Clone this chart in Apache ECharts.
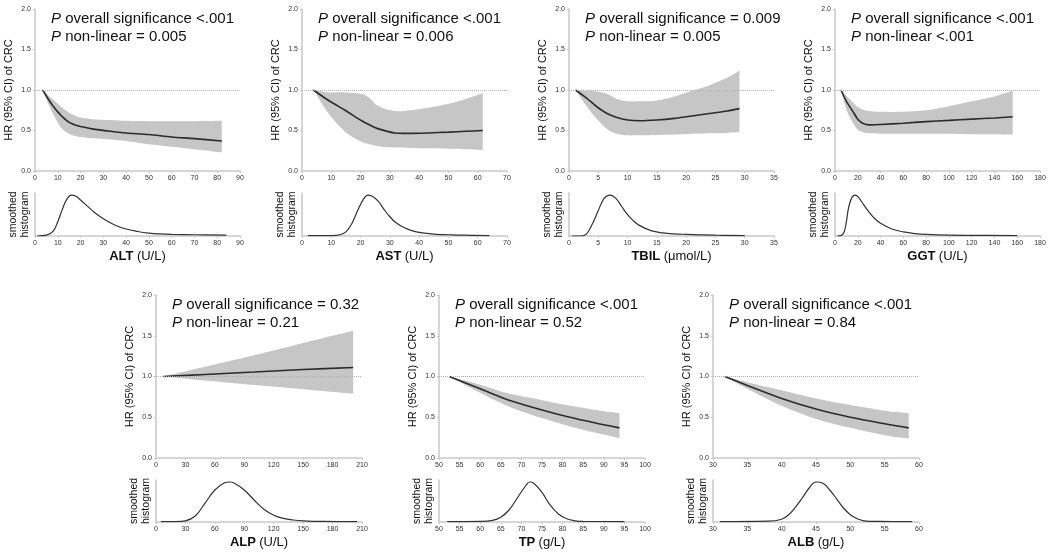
<!DOCTYPE html>
<html>
<head>
<meta charset="utf-8">
<script src="https://cdn.jsdelivr.net/npm/echarts@6/dist/echarts.min.js"></script>
<style>
html, body { margin: 0; padding: 0; background: #fff; }
#main { width: 1050px; height: 554px; }
</style>
</head>
<body>
<div id="main"></div>
<script>
// ---- data ----
var altX  = [3.4, 6, 8, 10, 12, 15, 18, 20, 25, 33, 40, 50, 60, 70, 82];
var altHR = [1.0, 0.88, 0.8, 0.73, 0.67, 0.6, 0.565, 0.55, 0.52, 0.49, 0.47, 0.45, 0.42, 0.4, 0.37];
var altHi = [1.0, 0.93, 0.88, 0.83, 0.78, 0.72, 0.68, 0.66, 0.64, 0.63, 0.62, 0.615, 0.615, 0.615, 0.62];
var altLo = [1.0, 0.82, 0.7, 0.6, 0.52, 0.46, 0.43, 0.42, 0.405, 0.39, 0.37, 0.33, 0.3, 0.27, 0.23];
var altHistX = [1, 5, 8, 10, 12, 14, 16, 18, 20, 23, 26, 30, 35, 40, 45, 50, 55, 60, 70, 84];
var altHistY = [0.0, 0.02, 0.12, 0.35, 0.65, 0.9, 1.0, 0.97, 0.88, 0.73, 0.58, 0.42, 0.27, 0.17, 0.11, 0.07, 0.05, 0.04, 0.03, 0.02];

var astX  = [3.9, 9.1, 14.7, 20.4, 23, 26.1, 31.7, 37, 43, 50, 56, 61.7];
var astHR = [1.0, 0.87, 0.75, 0.62, 0.57, 0.52, 0.47, 0.465, 0.47, 0.48, 0.49, 0.5];
var astHi = [1.0, 0.97, 0.97, 0.95, 0.9, 0.8, 0.74, 0.75, 0.78, 0.83, 0.89, 0.96];
var astLo = [1.0, 0.71, 0.485, 0.36, 0.33, 0.305, 0.29, 0.285, 0.28, 0.275, 0.27, 0.26];
var astHistX = [2, 10, 13, 15, 17, 19, 21, 22.5, 24, 26, 28, 30, 32, 35, 38, 42, 46, 50, 55, 64];
var astHistY = [0.01, 0.01, 0.03, 0.1, 0.3, 0.62, 0.9, 1.0, 0.97, 0.85, 0.65, 0.47, 0.33, 0.2, 0.12, 0.07, 0.04, 0.03, 0.02, 0.01];

var tbilX  = [1.1, 3, 4.8, 6.5, 8.2, 10, 12, 15, 18, 21, 24, 27, 29.1];
var tbilHR = [1.0, 0.9, 0.79, 0.71, 0.66, 0.63, 0.62, 0.63, 0.65, 0.68, 0.71, 0.74, 0.77];
var tbilHi = [1.0, 0.99, 0.98, 0.95, 0.89, 0.86, 0.86, 0.87, 0.92, 0.99, 1.06, 1.15, 1.24];
var tbilLo = [1.0, 0.8, 0.64, 0.52, 0.46, 0.44, 0.44, 0.445, 0.45, 0.46, 0.465, 0.47, 0.48];
var tbilHistX = [0.5, 2, 3, 4, 5, 6, 7, 8, 9, 10, 11, 12, 14, 16, 18, 20, 25, 30];
var tbilHistY = [0.0, 0.0, 0.05, 0.3, 0.62, 0.92, 1.0, 0.92, 0.72, 0.52, 0.37, 0.26, 0.13, 0.075, 0.05, 0.04, 0.02, 0.01];

var ggtX  = [5.3, 10, 15.5, 20, 24.3, 30, 40, 60, 80, 100, 120, 140, 156];
var ggtHR = [1.0, 0.86, 0.74, 0.64, 0.59, 0.57, 0.575, 0.59, 0.61, 0.625, 0.64, 0.655, 0.67];
var ggtHi = [1.0, 0.93, 0.85, 0.79, 0.76, 0.74, 0.73, 0.73, 0.75, 0.8, 0.86, 0.92, 0.99];
var ggtLo = [1.0, 0.76, 0.6, 0.51, 0.48, 0.465, 0.46, 0.46, 0.46, 0.46, 0.455, 0.455, 0.45];
var ggtHistX = [2, 5, 8, 10, 12, 15, 18, 21, 25, 30, 35, 40, 50, 60, 70, 80, 100, 120, 160];
var ggtHistY = [0.0, 0.01, 0.1, 0.35, 0.7, 0.95, 1.0, 0.93, 0.77, 0.58, 0.42, 0.31, 0.17, 0.1, 0.06, 0.04, 0.02, 0.015, 0.01];

var alpX  = [7.5, 50, 100, 150, 201];
var alpHR = [1.0, 1.025, 1.055, 1.085, 1.11];
var alpHi = [1.0, 1.12, 1.26, 1.41, 1.56];
var alpLo = [1.0, 0.95, 0.895, 0.845, 0.79];
var alpHistX = [5, 20, 30, 40, 50, 60, 70, 75, 80, 90, 100, 110, 120, 130, 140, 150, 170, 205];
var alpHistY = [0.01, 0.01, 0.03, 0.15, 0.47, 0.8, 0.98, 1.0, 0.97, 0.8, 0.55, 0.32, 0.17, 0.09, 0.05, 0.03, 0.015, 0.01];

var tpX  = [52.5, 60, 67, 75, 81, 88, 93.8];
var tpHR = [1.0, 0.85, 0.71, 0.59, 0.51, 0.43, 0.37];
var tpHi = [1.0, 0.9, 0.79, 0.71, 0.65, 0.59, 0.55];
var tpLo = [1.0, 0.8, 0.63, 0.49, 0.4, 0.31, 0.245];
var tpHistX = [52, 60, 63, 65, 67, 69, 71, 72, 73, 75, 77, 79, 81, 83, 85, 95];
var tpHistY = [0.01, 0.015, 0.04, 0.12, 0.3, 0.6, 0.9, 1.0, 0.97, 0.74, 0.42, 0.2, 0.08, 0.03, 0.015, 0.01];

var albX  = [31.7, 35, 40, 45, 50, 55, 58.5];
var albHR = [1.0, 0.89, 0.73, 0.6, 0.5, 0.42, 0.37];
var albHi = [1.0, 0.93, 0.83, 0.73, 0.65, 0.58, 0.55];
var albLo = [1.0, 0.85, 0.64, 0.48, 0.37, 0.28, 0.24];
var albHistX = [31, 38, 40, 41, 42, 43, 44, 45, 46, 47, 48, 49, 50, 51, 52, 54, 59];
var albHistY = [0.01, 0.02, 0.07, 0.18, 0.37, 0.6, 0.85, 1.0, 0.97, 0.8, 0.58, 0.35, 0.18, 0.08, 0.03, 0.015, 0.01];

var names  = ['ALT', 'AST', 'TBIL', 'GGT', 'ALP', 'TP', 'ALB'];
var units  = ['(U/L)', '(U/L)', '(μmol/L)', '(U/L)', '(U/L)', '(g/L)', '(g/L)'];
var pOverall = ['<.001', '<.001', '= 0.009', '<.001', '= 0.32', '<.001', '<.001'];
var pNonlin  = ['= 0.005', '= 0.006', '= 0.005', '<.001', '= 0.21', '= 0.52', '= 0.84'];
var xMin  = [0, 0, 0, 0, 0, 50, 30];
var xMax  = [90, 70, 35, 180, 210, 100, 60];
var xStep = [10, 10, 5, 20, 30, 5, 5];

var panels = [
    { x: altX,  hr: altHR,  hi: altHi,  lo: altLo,  hx: altHistX,  hy: altHistY },
    { x: astX,  hr: astHR,  hi: astHi,  lo: astLo,  hx: astHistX,  hy: astHistY },
    { x: tbilX, hr: tbilHR, hi: tbilHi, lo: tbilLo, hx: tbilHistX, hy: tbilHistY },
    { x: ggtX,  hr: ggtHR,  hi: ggtHi,  lo: ggtLo,  hx: ggtHistX,  hy: ggtHistY },
    { x: alpX,  hr: alpHR,  hi: alpHi,  lo: alpLo,  hx: alpHistX,  hy: alpHistY },
    { x: tpX,   hr: tpHR,   hi: tpHi,   lo: tpLo,   hx: tpHistX,   hy: tpHistY },
    { x: albX,  hr: albHR,  hi: albHi,  lo: albLo,  hx: albHistX,  hy: albHistY }
];

// ---- layout (pixels) ----
var lefts   = [35, 302, 569, 835, 156, 439, 713];
var widths  = [205, 205, 205, 205, 206, 206, 206];
var mainTop = [9, 9, 9, 9, 295, 295, 295];
var mainH   = [162, 162, 162, 162, 163, 163, 163];
var histTop = [193, 193, 193, 193, 480, 480, 480];
var histH   = [43, 43, 43, 43, 42, 42, 42];

var FONT = '"Liberation Sans", Arial, Helvetica, sans-serif';
var axisGray = '#c9c9c9';

function zip(a, b) {
    return a.map(function (v, i) { return [v, b[i]]; });
}

// smooth curve through pixel points (Catmull-Rom -> cubic bezier), no leading M
function curveTo(pts) {
    var d = '', s = 1 / 6;
    for (var k = 0; k < pts.length - 1; k++) {
        var p0 = pts[Math.max(k - 1, 0)], p1 = pts[k], p2 = pts[k + 1], p3 = pts[Math.min(k + 2, pts.length - 1)];
        var c1 = [p1[0] + (p2[0] - p0[0]) * s, p1[1] + (p2[1] - p0[1]) * s];
        var c2 = [p2[0] - (p3[0] - p1[0]) * s, p2[1] - (p3[1] - p1[1]) * s];
        d += ' C' + c1[0] + ',' + c1[1] + ' ' + c2[0] + ',' + c2[1] + ' ' + p2[0] + ',' + p2[1];
    }
    return d;
}

// 95% CI band: upper bound forward, lower bound back, closed
function bandRenderer(p) {
    return function (params, api) {
        var up = [], low = [];
        for (var k = 0; k < p.x.length; k++) {
            up.push(api.coord([p.x[k], p.hi[k]]));
            low.unshift(api.coord([p.x[k], p.lo[k]]));
        }
        var d = 'M' + up[0][0] + ',' + up[0][1] + curveTo(up) +
            ' L' + low[0][0] + ',' + low[0][1] + curveTo(low) + ' Z';
        return {
            type: 'path',
            shape: { pathData: d },
            style: { fill: '#c6c6c6' }
        };
    };
}

var grid = [], xAxis = [], yAxis = [], series = [], graphic = [];

panels.forEach(function (p, i) {
    var gm = i * 2, gh = i * 2 + 1;
    grid.push({ left: lefts[i], top: mainTop[i], width: widths[i], height: mainH[i], containLabel: false, outerBoundsMode: 'none' });
    grid.push({ left: lefts[i], top: histTop[i], width: widths[i], height: histH[i], containLabel: false, outerBoundsMode: 'none' });

    var xCommon = {
        type: 'value', min: xMin[i], max: xMax[i], interval: xStep[i],
        axisLine: { show: true, lineStyle: { color: axisGray, width: 1.5 } },
        axisTick: { show: true, length: 2, lineStyle: { color: axisGray } },
        axisLabel: { fontSize: 7, color: '#333', margin: 4, fontFamily: FONT },
        splitLine: { show: false }
    };
    xAxis.push(Object.assign({ gridIndex: gm }, xCommon));
    xAxis.push(Object.assign({ gridIndex: gh }, xCommon, {
        name: '{b|' + names[i] + '} {n|' + units[i] + '}',
        nameLocation: 'middle', nameGap: 14,
        nameTextStyle: {
            rich: {
                b: { fontSize: 13, fontWeight: 'bold', color: '#111', fontFamily: FONT },
                n: { fontSize: 13, color: '#111', fontFamily: FONT }
            }
        }
    }));

    yAxis.push({
        type: 'value', gridIndex: gm, min: 0, max: 2, interval: 0.5,
        name: 'HR (95% CI) of CRC', nameLocation: 'middle', nameGap: 21,
        nameTextStyle: { fontSize: 11, color: '#111', fontFamily: FONT },
        axisLine: { show: true, lineStyle: { color: axisGray, width: 1.5 } },
        axisTick: { show: true, length: 2, lineStyle: { color: axisGray } },
        axisLabel: { fontSize: 7, color: '#333', margin: 4, fontFamily: FONT,
            formatter: function (v) { return v.toFixed(1); } },
        splitLine: { show: false }
    });
    yAxis.push({
        type: 'value', gridIndex: gh, min: 0, max: 1.05,
        name: 'smoothed\nhistogram', nameLocation: 'middle', nameGap: 4,
        nameTextStyle: { fontSize: 10.5, lineHeight: 12, color: '#111', fontFamily: FONT },
        axisLine: { show: true, lineStyle: { color: axisGray, width: 1.5 } },
        axisTick: { show: false }, axisLabel: { show: false },
        splitLine: { show: false }
    });

    // reference line at HR = 1 (drawn under the band)
    series.push({
        type: 'line', xAxisIndex: gm, yAxisIndex: gm,
        data: zip(p.x, p.hr), symbol: 'none', z: 1, silent: true,
        lineStyle: { opacity: 0 },
        markLine: {
            silent: true, symbol: 'none', label: { show: false },
            lineStyle: { type: 'dotted', color: '#b0b0b0', width: 1 },
            data: [{ yAxis: 1 }]
        }
    });
    // 95% CI band
    series.push({
        type: 'custom', xAxisIndex: gm, yAxisIndex: gm, z: 2, silent: true,
        data: [[p.x[0], p.hr[0]]],
        renderItem: bandRenderer(p)
    });
    // HR curve
    series.push({
        type: 'line', xAxisIndex: gm, yAxisIndex: gm,
        data: zip(p.x, p.hr), smooth: 0.3, symbol: 'none', z: 4,
        lineStyle: { color: '#2b2b2b', width: 1.6 }
    });
    // smoothed histogram
    series.push({
        type: 'line', xAxisIndex: gh, yAxisIndex: gh,
        data: zip(p.hx, p.hy), smooth: 0.4, symbol: 'none', z: 4,
        lineStyle: { color: '#333', width: 1.2 }
    });

    graphic.push({
        type: 'text', left: lefts[i] + 16, top: mainTop[i] + 2, z: 10,
        style: {
            text: '{i|P}{n| overall significance ' + pOverall[i] + '}\n{i|P}{n| non-linear ' + pNonlin[i] + '}',
            rich: {
                i: { fontSize: 15, fontStyle: 'italic', fontFamily: FONT, fill: '#111', lineHeight: 18 },
                n: { fontSize: 15, fontFamily: FONT, fill: '#111', lineHeight: 18 }
            }
        }
    });
});

var myChart = echarts.init(document.getElementById('main'));
var option = {
    backgroundColor: '#fff',
    animation: false,
    grid: grid,
    xAxis: xAxis,
    yAxis: yAxis,
    series: series,
    graphic: graphic
};
myChart.setOption(option);
</script>
</body>
</html>
